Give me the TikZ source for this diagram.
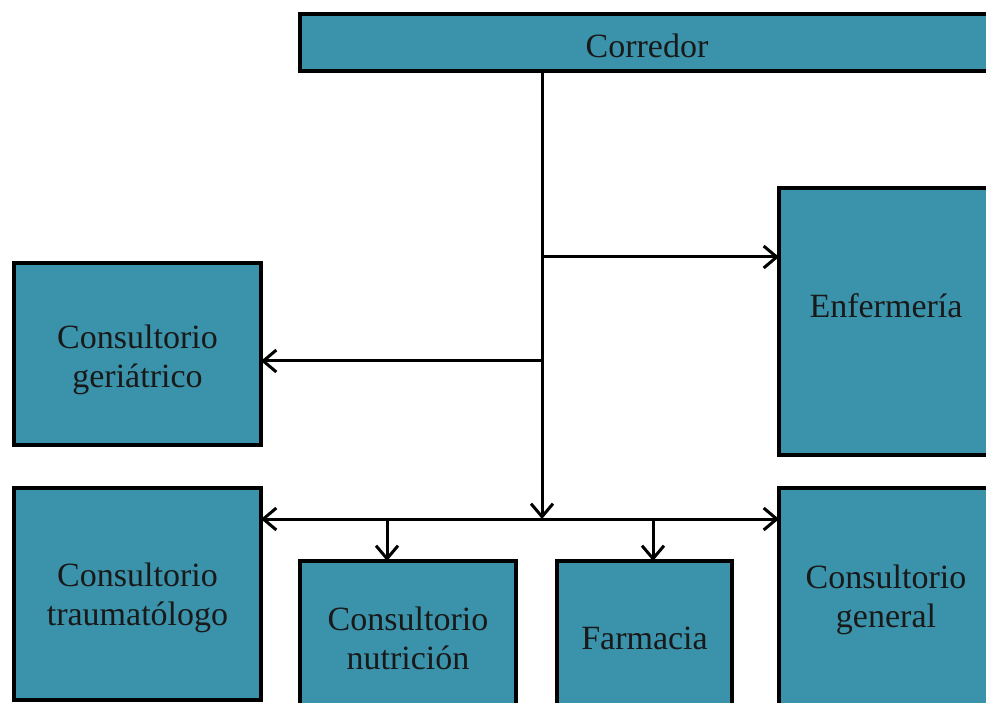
\documentclass[tikz,border=0pt]{standalone}
\usepackage{fontspec}
\setmainfont{Liberation Serif}
\usetikzlibrary{arrows.meta}
\definecolor{boxfill}{RGB}{58,147,171}
\tikzset{
  room/.style={draw=black, line width=3.2pt, fill=boxfill, rectangle, inner sep=0pt, outer sep=0pt},
  txt/.style={align=center, font=\fontsize{34}{39}\selectfont, text=black!90},
  arr/.style={line width=3pt, -{Straight Barb[length=13pt,width=22pt,line width=3pt]}},
}
\begin{document}
\begin{tikzpicture}[x=1pt,y=-1pt]
\useasboundingbox (0,0) rectangle (986,703);
\fill[white] (0,0) rectangle (986,703);
\clip (0,0) rectangle (986,703);
% boxes
\node[room, minimum width=694pt, minimum height=57pt] (cor) at (647,42.5) {};
\node[txt] (cort) at (647,46) {Corredor};
\node[room, minimum width=214pt, minimum height=267pt] (enf) at (886,321.5) {};
\node[txt] (enft) at (886,306) {Enfermería};
\node[room, minimum width=247pt, minimum height=182pt] (ger) at (137.5,354) {};
\node[txt] (gert) at (137.5,360) {Consultorio\\geriátrico};
\node[room, minimum width=247pt, minimum height=212pt] (tra) at (137.5,594) {};
\node[txt] (trat) at (137.5,598) {Consultorio\\traumatólogo};
\node[room, minimum width=216pt, minimum height=150pt] (nut) at (408,636) {};
\node[txt] (nutt) at (408,638) {Consultorio\\nutrición};
\node[room, minimum width=175pt, minimum height=150pt] (far) at (644.5,636) {};
\node[txt] (fart) at (644.5,638) {Farmacia};
\node[room, minimum width=214pt, minimum height=220pt] (gen) at (886,598) {};
\node[txt] (gent) at (886,600) {Consultorio\\general};
% connectors
\coordinate (j) at (542,519);
\coordinate (b1) at (542,257);
\coordinate (b2) at (542,361);
\coordinate (n1) at (387,519);
\coordinate (f1) at (653,519);
\draw[arr] (cor.south -| j) -- (j);
\draw[arr] (b1) -- (b1 -| enf.west);
\draw[arr] (b2) -- (b2 -| ger.east);
\draw[arr] (j) -- (j -| tra.east);
\draw[arr] (j) -- (j -| gen.west);
\draw[arr] (n1) -- (n1 |- nut.north);
\draw[arr] (f1) -- (f1 |- far.north);
\end{tikzpicture}
\end{document}
